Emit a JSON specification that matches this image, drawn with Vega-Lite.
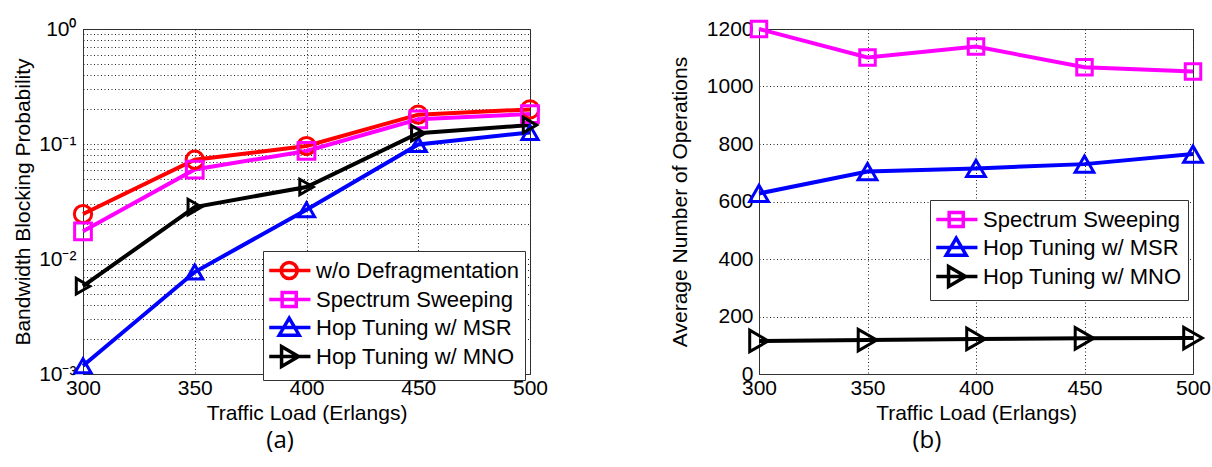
{
  "$schema": "https://vega.github.io/schema/vega-lite/v6.json",
  "background": "white",
  "padding": {"left": 12, "top": 14, "right": 0, "bottom": 0},
  "config": {
    "font": "Liberation Sans",
    "view": {"stroke": "#333", "strokeWidth": 1},
    "axis": {
      "labelFont": "Liberation Sans", "labelFontSize": 21, "labelColor": "black",
      "titleFont": "Liberation Sans", "titleFontSize": 21, "titleFontWeight": "normal", "titleColor": "black",
      "domainColor": "#333", "domainWidth": 1, "ticks": false,
      "gridColor": "#222", "gridDash": [1, 2.5], "gridWidth": 1, "gridOpacity": 1,
      "labelOverlap": false, "labelFlush": false
    },
    "legend": {
      "labelFont": "Liberation Sans", "labelFontSize": 22, "labelColor": "black", "labelLimit": 400,
      "rowPadding": -7, "padding": 6, "symbolSize": 552, "symbolStrokeWidth": 3.5, "labelOffset": 20,
      "symbolFillColor": "transparent", "strokeColor": "#333", "fillColor": "white"
    },
    "title": {"font": "Open Sans", "fontSize": 24, "fontWeight": "normal", "color": "black"}
  },
  "datasets": {
    "blocking": [
      {"load": 300, "method": "w/o Defragmentation", "prob": 0.0246},
      {"load": 350, "method": "w/o Defragmentation", "prob": 0.073},
      {"load": 400, "method": "w/o Defragmentation", "prob": 0.096},
      {"load": 450, "method": "w/o Defragmentation", "prob": 0.18},
      {"load": 500, "method": "w/o Defragmentation", "prob": 0.2},
      {"load": 300, "method": "Spectrum Sweeping", "prob": 0.0174},
      {"load": 350, "method": "Spectrum Sweeping", "prob": 0.06},
      {"load": 400, "method": "Spectrum Sweeping", "prob": 0.087},
      {"load": 450, "method": "Spectrum Sweeping", "prob": 0.164},
      {"load": 500, "method": "Spectrum Sweeping", "prob": 0.182},
      {"load": 300, "method": "Hop Tuning w/ MSR", "prob": 0.00118},
      {"load": 350, "method": "Hop Tuning w/ MSR", "prob": 0.0077},
      {"load": 400, "method": "Hop Tuning w/ MSR", "prob": 0.0268},
      {"load": 450, "method": "Hop Tuning w/ MSR", "prob": 0.099},
      {"load": 500, "method": "Hop Tuning w/ MSR", "prob": 0.126},
      {"load": 300, "method": "Hop Tuning w/ MNO", "prob": 0.0058},
      {"load": 350, "method": "Hop Tuning w/ MNO", "prob": 0.0283},
      {"load": 400, "method": "Hop Tuning w/ MNO", "prob": 0.0423},
      {"load": 450, "method": "Hop Tuning w/ MNO", "prob": 0.124},
      {"load": 500, "method": "Hop Tuning w/ MNO", "prob": 0.146}
    ],
    "operations": [
      {"load": 300, "method": "Spectrum Sweeping", "ops": 1200},
      {"load": 350, "method": "Spectrum Sweeping", "ops": 1101},
      {"load": 400, "method": "Spectrum Sweeping", "ops": 1139},
      {"load": 450, "method": "Spectrum Sweeping", "ops": 1067},
      {"load": 500, "method": "Spectrum Sweeping", "ops": 1052},
      {"load": 300, "method": "Hop Tuning w/ MSR", "ops": 628},
      {"load": 350, "method": "Hop Tuning w/ MSR", "ops": 704},
      {"load": 400, "method": "Hop Tuning w/ MSR", "ops": 715},
      {"load": 450, "method": "Hop Tuning w/ MSR", "ops": 730},
      {"load": 500, "method": "Hop Tuning w/ MSR", "ops": 765},
      {"load": 300, "method": "Hop Tuning w/ MNO", "ops": 115},
      {"load": 350, "method": "Hop Tuning w/ MNO", "ops": 118},
      {"load": 400, "method": "Hop Tuning w/ MNO", "ops": 122},
      {"load": 450, "method": "Hop Tuning w/ MNO", "ops": 124},
      {"load": 500, "method": "Hop Tuning w/ MNO", "ops": 125}
    ]
  },
  "spacing": 119,
  "resolve": {
    "scale": {"x": "independent", "y": "independent", "color": "independent", "shape": "independent", "size": "independent"},
    "legend": {"color": "independent", "shape": "independent", "size": "independent"}
  },
  "hconcat": [
    {
      "width": 447,
      "height": 345,
      "title": {"text": "(a)", "orient": "bottom", "anchor": "middle", "frame": "bounds", "offset": 6},
      "data": {"name": "blocking"},
      "resolve": {"legend": {"color": "independent", "shape": "independent", "size": "independent"}},
      "encoding": {
        "x": {
          "field": "load", "type": "quantitative",
          "scale": {"domain": [300, 500], "nice": false, "zero": false},
          "axis": {"values": [300, 350, 400, 450, 500], "title": "Traffic Load (Erlangs)", "labelPadding": 3, "titlePadding": 4}
        },
        "y": {
          "field": "prob", "type": "quantitative",
          "scale": {"type": "log", "domain": [0.001, 1], "nice": false},
          "axis": {
            "values": [0.001, 0.002, 0.003, 0.004, 0.005, 0.006, 0.007, 0.008, 0.009, 0.01, 0.02, 0.03, 0.04, 0.05, 0.06, 0.07, 0.08, 0.09, 0.1, 0.2, 0.3, 0.4, 0.5, 0.6, 0.7, 0.8, 0.9, 1],
            "labelExpr": "abs(datum.value - 1) < 1e-9 ? '10⁰' : abs(datum.value - 0.1) < 1e-9 ? '10⁻¹' : abs(datum.value - 0.01) < 1e-9 ? '10⁻²' : abs(datum.value - 0.001) < 1e-9 ? '10⁻³' : ''",
            "title": "Bandwidth Blocking Probability", "labelPadding": 7, "titlePadding": 5
          }
        }
      },
      "layer": [
        {
          "mark": {"type": "line", "strokeWidth": 4},
          "encoding": {
            "color": {
              "field": "method", "type": "nominal",
              "scale": {"domain": ["w/o Defragmentation", "Spectrum Sweeping", "Hop Tuning w/ MSR", "Hop Tuning w/ MNO"], "range": ["#ff0000", "#ff00ff", "#0000ff", "#000000"]},
              "legend": {
                "title": null, "orient": "none", "legendX": 180, "legendY": 222,
                "encode": {"symbols": {"update": {"shape": {"signal": "datum.value == 'w/o Defragmentation' ? 'M-1.13,0H2.38M1.25,0A0.68,0.68,0,1,1,-0.11,0A0.68,0.68,0,1,1,1.25,0Z' : datum.value == 'Spectrum Sweeping' ? 'M-1.13,0H2.38M-0.03,-0.6H1.17V0.6H-0.03Z' : datum.value == 'Hop Tuning w/ MSR' ? 'M-1.13,0H2.38M0.57,-0.8L1.42,0.65H-0.28Z' : 'M-1.13,0H2.38M1.37,0L-0.08,0.85V-0.85Z'"}}}}
              }
            }
          }
        },
        {
          "mark": {"type": "point", "filled": false, "strokeWidth": 3, "opacity": 1},
          "encoding": {
            "color": {
              "field": "method", "type": "nominal",
              "scale": {"domain": ["w/o Defragmentation", "Spectrum Sweeping", "Hop Tuning w/ MSR", "Hop Tuning w/ MNO"], "range": ["#ff0000", "#ff00ff", "#0000ff", "#000000"]},
              "legend": null
            },
            "shape": {"field": "method", "type": "nominal", "scale": {"domain": ["w/o Defragmentation", "Spectrum Sweeping", "Hop Tuning w/ MSR", "Hop Tuning w/ MNO"], "range": ["circle", "square", "triangle-up", "triangle-right"]}, "legend": null},
            "size": {"field": "method", "type": "nominal", "scale": {"domain": ["w/o Defragmentation", "Spectrum Sweeping", "Hop Tuning w/ MSR", "Hop Tuning w/ MNO"], "range": [300, 240, 460, 480]}, "legend": null}
          }
        }
      ]
    },
    {
      "width": 434,
      "height": 345,
      "title": {"text": "(b)", "orient": "bottom", "anchor": "middle", "frame": "bounds", "offset": 6, "dx": -13},
      "data": {"name": "operations"},
      "resolve": {"legend": {"color": "independent", "shape": "independent", "size": "independent"}},
      "encoding": {
        "x": {
          "field": "load", "type": "quantitative",
          "scale": {"domain": [300, 500], "nice": false, "zero": false},
          "axis": {"values": [300, 350, 400, 450, 500], "title": "Traffic Load (Erlangs)", "labelPadding": 3, "titlePadding": 4}
        },
        "y": {
          "field": "ops", "type": "quantitative",
          "scale": {"domain": [0, 1200], "nice": false},
          "axis": {"values": [0, 200, 400, 600, 800, 1000, 1200], "format": "d", "title": "Average Number of Operations", "labelPadding": 6, "titlePadding": 16}
        }
      },
      "layer": [
        {
          "mark": {"type": "line", "strokeWidth": 4},
          "encoding": {
            "color": {
              "field": "method", "type": "nominal",
              "scale": {"domain": ["Spectrum Sweeping", "Hop Tuning w/ MSR", "Hop Tuning w/ MNO"], "range": ["#ff00ff", "#0000ff", "#000000"]},
              "legend": {
                "title": null, "orient": "none", "legendX": 171, "legendY": 171,
                "encode": {"symbols": {"update": {"shape": {"signal": "datum.value == 'Spectrum Sweeping' ? 'M-1.13,0H2.38M-0.03,-0.6H1.17V0.6H-0.03Z' : datum.value == 'Hop Tuning w/ MSR' ? 'M-1.13,0H2.38M0.57,-0.8L1.42,0.65H-0.28Z' : 'M-1.13,0H2.38M1.37,0L-0.08,0.85V-0.85Z'"}}}}
              }
            }
          }
        },
        {
          "mark": {"type": "point", "filled": false, "strokeWidth": 3, "opacity": 1},
          "encoding": {
            "color": {
              "field": "method", "type": "nominal",
              "scale": {"domain": ["Spectrum Sweeping", "Hop Tuning w/ MSR", "Hop Tuning w/ MNO"], "range": ["#ff00ff", "#0000ff", "#000000"]},
              "legend": null
            },
            "shape": {"field": "method", "type": "nominal", "scale": {"domain": ["Spectrum Sweeping", "Hop Tuning w/ MSR", "Hop Tuning w/ MNO"], "range": ["square", "triangle-up", "triangle-right"]}, "legend": null},
            "size": {"field": "method", "type": "nominal", "scale": {"domain": ["Spectrum Sweeping", "Hop Tuning w/ MSR", "Hop Tuning w/ MNO"], "range": [240, 460, 480]}, "legend": null}
          }
        }
      ]
    }
  ]
}
